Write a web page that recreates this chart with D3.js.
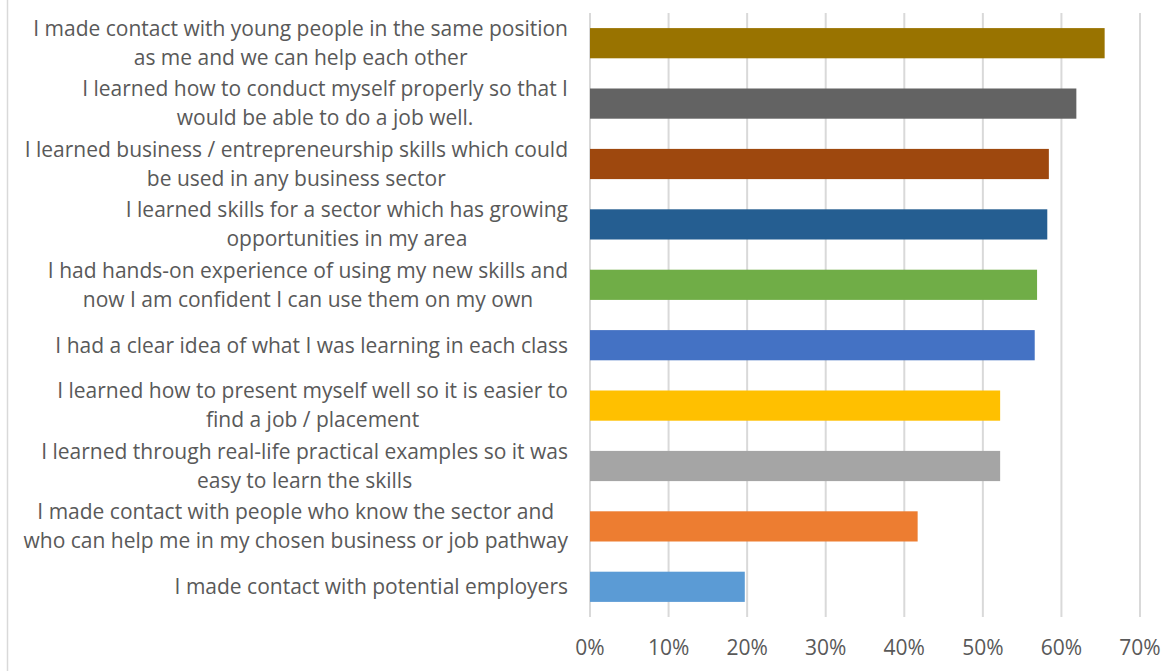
<!DOCTYPE html>
<html>
<head>
<meta charset="utf-8">
<script src="https://cdn.jsdelivr.net/npm/d3@7"></script>
<style>
  body { margin: 0; background: #fff; }
  text { font-family: "Open Sans", sans-serif; fill: #595959; }
</style>
</head>
<body>
<svg id="chart" width="1174" height="671"></svg>
<script>
// categories from top to bottom, each split in the lines as shown
var labels = [
    ["I made contact with young people in the same position", "as me and we can help each other"],
    ["I learned how to conduct myself properly so that I", "would be able to do a job well."],
    ["I learned business / entrepreneurship skills which could", "be used in any business sector"],
    ["I learned skills for a sector which has growing", "opportunities in my area"],
    ["I had hands-on experience of using my new skills and", "now I am confident I can use them on my own"],
    ["I had a clear idea of what I was learning in each class"],
    ["I learned how to present myself well so it is easier to", "find a job / placement"],
    ["I learned through real-life practical examples so it was", "easy to learn the skills"],
    ["I made contact with people who know the sector and", "who can help me in my chosen business or job pathway"],
    ["I made contact with potential employers"]
];
var values = [0.655, 0.619, 0.584, 0.582, 0.569, 0.566, 0.522, 0.522, 0.417, 0.197];
var colors = ["#997300", "#636363", "#9e480e", "#255e91", "#70ad47", "#4472c4", "#ffc000", "#a5a5a5", "#ed7d31", "#5b9bd5"];
var ticks = [0, 0.1, 0.2, 0.3, 0.4, 0.5, 0.6, 0.7];

var svg = d3.select("#chart");
var fontSize = 21;

// plot area
var plotLeft = 590, plotRight = 1140, plotTop = 13, plotBottom = 617;

var x = d3.scaleLinear().domain([0, 0.7]).range([plotLeft, plotRight]);
var y = d3.scaleBand().domain(d3.range(labels.length)).range([plotTop, plotBottom])
    .paddingInner(0.5).paddingOuter(0.25);

// chart border (only the left edge is visible)
svg.append("line")
    .attr("x1", 7.5).attr("x2", 7.5)
    .attr("y1", 0).attr("y2", 671)
    .attr("stroke", "#d9d9d9").attr("stroke-width", 1.5);

// gridlines
svg.append("g")
    .selectAll("line")
    .data(ticks)
    .enter().append("line")
    .attr("x1", function (d) { return x(d); })
    .attr("x2", function (d) { return x(d); })
    .attr("y1", plotTop)
    .attr("y2", plotBottom)
    .attr("stroke", "#d9d9d9")
    .attr("stroke-width", 2);

// bars
svg.append("g")
    .selectAll("rect")
    .data(values)
    .enter().append("rect")
    .attr("x", x(0))
    .attr("y", function (d, i) { return y(i); })
    .attr("width", function (d) { return x(d) - x(0); })
    .attr("height", y.bandwidth())
    .attr("fill", function (d, i) { return colors[i]; });

// x axis tick labels
svg.append("g")
    .selectAll("text")
    .data(ticks)
    .enter().append("text")
    .attr("x", function (d) { return x(d); })
    .attr("y", 648)
    .attr("dy", "0.35em")
    .attr("text-anchor", "middle")
    .style("font-size", fontSize + "px")
    .text(d3.format(".0%"));

// category labels: lines centred in a block that is right aligned
var labelRight = 568, lineH = 29;
var groups = svg.append("g")
    .selectAll("g")
    .data(labels)
    .enter().append("g");

groups.each(function (lines, i) {
    var g = d3.select(this);
    var cy = y(i) + y.bandwidth() / 2;
    var texts = g.selectAll("text")
        .data(lines)
        .enter().append("text")
        .attr("y", function (d, j) { return cy + (j - (lines.length - 1) / 2) * lineH; })
        .attr("dy", "0.35em")
        .attr("text-anchor", "middle")
        .style("font-size", fontSize + "px")
        .text(function (d) { return d; });
    var w = 0;
    texts.each(function () { w = Math.max(w, this.getComputedTextLength()); });
    texts.attr("x", labelRight - w / 2);
});
</script>
</body>
</html>
